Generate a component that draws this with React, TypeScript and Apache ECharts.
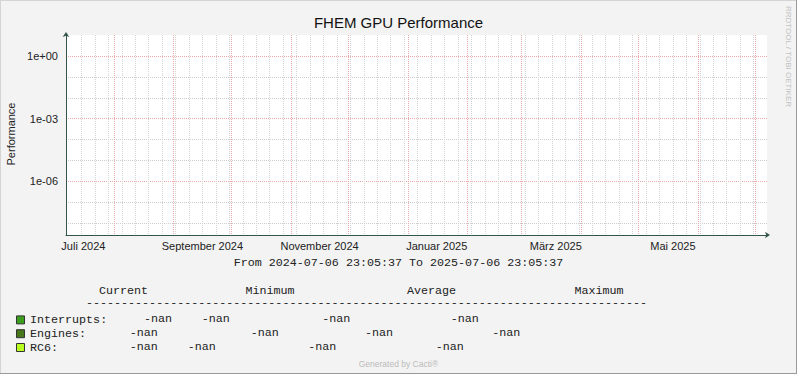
import React, { useEffect, useRef } from 'react';
import * as echarts from 'echarts';

const TITLE = 'FHEM GPU Performance';
const Y_NAME = 'Performance';
const WATERMARK = 'RRDTOOL / TOBI OETIKER';
const FOOTER = 'Generated by Cacti®';

const START = Date.UTC(2024, 6, 6, 23, 5, 37);
const END = Date.UTC(2025, 6, 6, 23, 5, 37);

const seriesNames = ['Interrupts', 'Engines', 'RC6'];
const seriesColors = ['#3C9E1E', '#48761A', '#B6FF1E'];
// No data was recorded: every sample is unknown (NaN)
const interruptsData: [number, number | null][] = [[START, null], [END, null]];
const enginesData: [number, number | null][] = [[START, null], [END, null]];
const rc6Data: [number, number | null][] = [[START, null], [END, null]];

const monthGridDates = [
  Date.UTC(2024, 7, 1), Date.UTC(2024, 8, 1), Date.UTC(2024, 9, 1), Date.UTC(2024, 10, 1),
  Date.UTC(2024, 11, 1), Date.UTC(2025, 0, 1), Date.UTC(2025, 1, 1), Date.UTC(2025, 2, 1),
  Date.UTC(2025, 3, 1), Date.UTC(2025, 4, 1), Date.UTC(2025, 5, 1), Date.UTC(2025, 6, 1),
];
const monthLabelDates = [
  Date.UTC(2024, 6, 16), Date.UTC(2024, 8, 16), Date.UTC(2024, 10, 16),
  Date.UTC(2025, 0, 16), Date.UTC(2025, 2, 19), Date.UTC(2025, 4, 19),
];
const monthLabels = ['Juli 2024', 'September 2024', 'November 2024', 'Januar 2025', 'März 2025', 'Mai 2025'];
const FIRST_MONDAY = Date.UTC(2024, 6, 15);
const WEEK = 7 * 24 * 3600 * 1000;

const yMajorTicks = [1, 1e-3, 1e-6];
const yMinorTicks = [1e-1, 1e-2, 1e-4, 1e-5, 1e-7, 1e-8];
const Y_MIN = Math.pow(10, -8.56);
const Y_MAX = 10;

const statHeaders = ['Current', 'Minimum', 'Average', 'Maximum'];

// layout
const headerX = [99, 245.5, 407, 574.5];
const rowY = [319, 332.7, 346.7];
const valueX = [
  [144, 201.7, 322.3, 450.7],
  [129.7, 250.7, 365, 492.3],
  [129.7, 187.7, 308.3, 435.7],
];

function weeklyTicks(): number[] {
  const out: number[] = [];
  for (let t = FIRST_MONDAY; t < END; t += WEEK) out.push(t);
  return out;
}

function fmtStat(v: number): string {
  return Number.isFinite(v) ? v.toFixed(2) : '-nan';
}

function stats(data: [number, number | null][]): number[] {
  const vals = data.map((d) => (d[1] == null ? NaN : d[1]));
  const cur = vals[vals.length - 1];
  const ok = vals.filter((v) => Number.isFinite(v));
  if (!ok.length) return [cur, NaN, NaN, NaN];
  return [cur, Math.min(...ok), ok.reduce((a, b) => a + b, 0) / ok.length, Math.max(...ok)];
}

function fmtDate(t: number): string {
  const d = new Date(t);
  const p = (n: number) => String(n).padStart(2, '0');
  return `${d.getUTCFullYear()}-${p(d.getUTCMonth() + 1)}-${p(d.getUTCDate())} ${p(d.getUTCHours())}:${p(d.getUTCMinutes())}:${p(d.getUTCSeconds())}`;
}

function fmtExp(v: number): string {
  const e = Math.round(Math.log10(v));
  return `1e${e < 0 ? '-' : '+'}${String(Math.abs(e)).padStart(2, '0')}`;
}

const SANS = 'Liberation Sans, Arial, sans-serif';
const MONO = 'Liberation Mono, Courier New, monospace';
const AXIS_COLOR = '#34554A';
const MINOR_GRID = '#CDCDCD';
const MINOR_GRID_V = '#D3D3D3';
const MAJOR_GRID = '#EBA9A9';

export default function App() {
  const ref = useRef<HTMLDivElement>(null);
  useEffect(() => {
    if (!ref.current) return;
    const chart = echarts.init(ref.current, undefined, { renderer: 'svg' });
    const allData = [interruptsData, enginesData, rc6Data];
    const graphic: any[] = [];

    // frame
    graphic.push(
      { type: 'line', shape: { x1: 0, y1: 0.5, x2: 797, y2: 0.5 }, style: { stroke: '#D4D4D4', lineWidth: 1 } },
      { type: 'line', shape: { x1: 0.5, y1: 0, x2: 0.5, y2: 374 }, style: { stroke: '#D4D4D4', lineWidth: 1 } },
      { type: 'line', shape: { x1: 796.5, y1: 0, x2: 796.5, y2: 374 }, style: { stroke: '#9A9A9A', lineWidth: 1 } },
      { type: 'line', shape: { x1: 0, y1: 373.5, x2: 797, y2: 373.5 }, style: { stroke: '#9A9A9A', lineWidth: 1 } },
    );
    graphic.push({
      type: 'text', x: 10.5, y: 134, rotation: Math.PI / 2,
      style: { text: Y_NAME, font: `11px ${SANS}`, fill: '#222', align: 'center', verticalAlign: 'middle' },
    });
    graphic.push({
      type: 'text', x: 788, y: 56.5, rotation: -Math.PI / 2,
      style: { text: WATERMARK, font: `8px ${SANS}`, fill: '#C2C2C2', align: 'center', verticalAlign: 'middle' },
    });
    graphic.push({
      type: 'text', x: 398.5, y: 263.3,
      style: { text: `From ${fmtDate(START)} To ${fmtDate(END)}`, font: `11.7px ${MONO}`, fill: '#222', align: 'center', verticalAlign: 'middle' },
    });
    statHeaders.forEach((h, i) => {
      graphic.push({
        type: 'text', x: headerX[i], y: 290.7,
        style: { text: h, font: `11.7px ${MONO}`, fill: '#222', align: 'left', verticalAlign: 'middle' },
      });
    });
    graphic.push({
      type: 'text', x: 86, y: 303.3,
      style: { text: '-'.repeat(80), font: `11.7px ${MONO}`, fill: '#222', align: 'left', verticalAlign: 'middle' },
    });
    allData.forEach((d, r) => {
      stats(d).forEach((v, c) => {
        graphic.push({
          type: 'text', x: valueX[r][c], y: rowY[r],
          style: { text: fmtStat(v), font: `11.7px ${MONO}`, fill: '#222', align: 'left', verticalAlign: 'middle' },
        });
      });
    });
    graphic.push({
      type: 'text', x: 398.5, y: 363.5,
      style: { text: FOOTER, font: `8.5px ${SANS}`, fill: '#BBBBBB', align: 'center', verticalAlign: 'middle' },
    });

    const labelMap = new Map<number, string>();
    monthLabelDates.forEach((t, i) => labelMap.set(t, monthLabels[i]));

    const xBase = { type: 'value', min: START, max: END, position: 'bottom', gridIndex: 0 };
    const yBase = { type: 'log', logBase: 10, min: Y_MIN, max: Y_MAX, position: 'left', gridIndex: 0 };

    chart.setOption({
      animation: false,
      backgroundColor: '#F3F3F3',
      title: {
        text: TITLE, left: 'center', top: 15, padding: 0,
        textStyle: { fontSize: 15, fontWeight: 'normal', fontFamily: SANS, color: '#111' },
      },
      grid: {
        left: 66, top: 35, width: 701, height: 200, show: true,
        backgroundColor: '#FFFFFF', borderWidth: 0, containLabel: false,
      },
      legend: {
        data: seriesNames, orient: 'vertical', left: 16, top: 313, padding: 0,
        itemWidth: 8, itemHeight: 8, itemGap: 0, icon: 'rect', selectedMode: false,
        formatter: (n: string) => `${n}:`,
        itemStyle: { borderColor: '#333', borderWidth: 1 },
        textStyle: { fontFamily: MONO, fontSize: 11.7, color: '#222', lineHeight: 13.8, padding: [0, 0, 0, 0.5] },
      },
      xAxis: [
        {
          ...xBase,
          axisLine: { show: true, onZero: false, lineStyle: { color: AXIS_COLOR, width: 1 }, symbol: ['none', 'arrow'], symbolSize: [5, 5], symbolOffset: [0, 3] },
          axisTick: { show: false, customValues: weeklyTicks() },
          axisLabel: { show: false },
          splitLine: { show: true, lineStyle: { color: MINOR_GRID_V, type: [1, 1], width: 1 } },
        },
        {
          ...xBase,
          axisLine: { show: false, onZero: false },
          axisTick: { show: false, customValues: monthGridDates },
          axisLabel: { show: false },
          splitLine: { show: true, lineStyle: { color: MAJOR_GRID, type: [1, 1], width: 1 } },
        },
        {
          ...xBase,
          axisLine: { show: false, onZero: false },
          axisTick: { show: false, customValues: monthLabelDates },
          axisLabel: {
            show: true, customValues: monthLabelDates, margin: 5, hideOverlap: false,
            fontFamily: SANS, fontSize: 11, color: '#222',
            formatter: (v: number) => labelMap.get(v) ?? '',
          },
          splitLine: { show: false },
        },
      ],
      yAxis: [
        {
          ...yBase,
          axisLine: { show: true, onZero: false, lineStyle: { color: AXIS_COLOR, width: 1 }, symbol: ['none', 'arrow'], symbolSize: [5, 5], symbolOffset: [0, 3] },
          axisTick: { show: false, customValues: yMinorTicks },
          axisLabel: { show: false },
          splitLine: { show: true, lineStyle: { color: MINOR_GRID, type: [1, 1], width: 1 } },
        },
        {
          ...yBase,
          axisLine: { show: false, onZero: false },
          axisTick: { show: false, customValues: yMajorTicks },
          axisLabel: {
            show: true, customValues: yMajorTicks, margin: 8,
            fontFamily: SANS, fontSize: 11, color: '#222',
            formatter: (v: number) => fmtExp(v),
          },
          splitLine: { show: true, lineStyle: { color: MAJOR_GRID, type: [1, 1], width: 1 } },
        },
      ],
      series: seriesNames.map((name, i) => ({
        name, type: 'line', xAxisIndex: 0, yAxisIndex: 0,
        data: allData[i], showSymbol: false, connectNulls: false,
        itemStyle: { color: seriesColors[i] }, lineStyle: { color: seriesColors[i], width: 1 },
      })),
      graphic,
    });
    return () => chart.dispose();
  }, []);
  return <div ref={ref} style={{ position: 'fixed', left: 0, top: 0, width: 797, height: 374 }} />;
}
